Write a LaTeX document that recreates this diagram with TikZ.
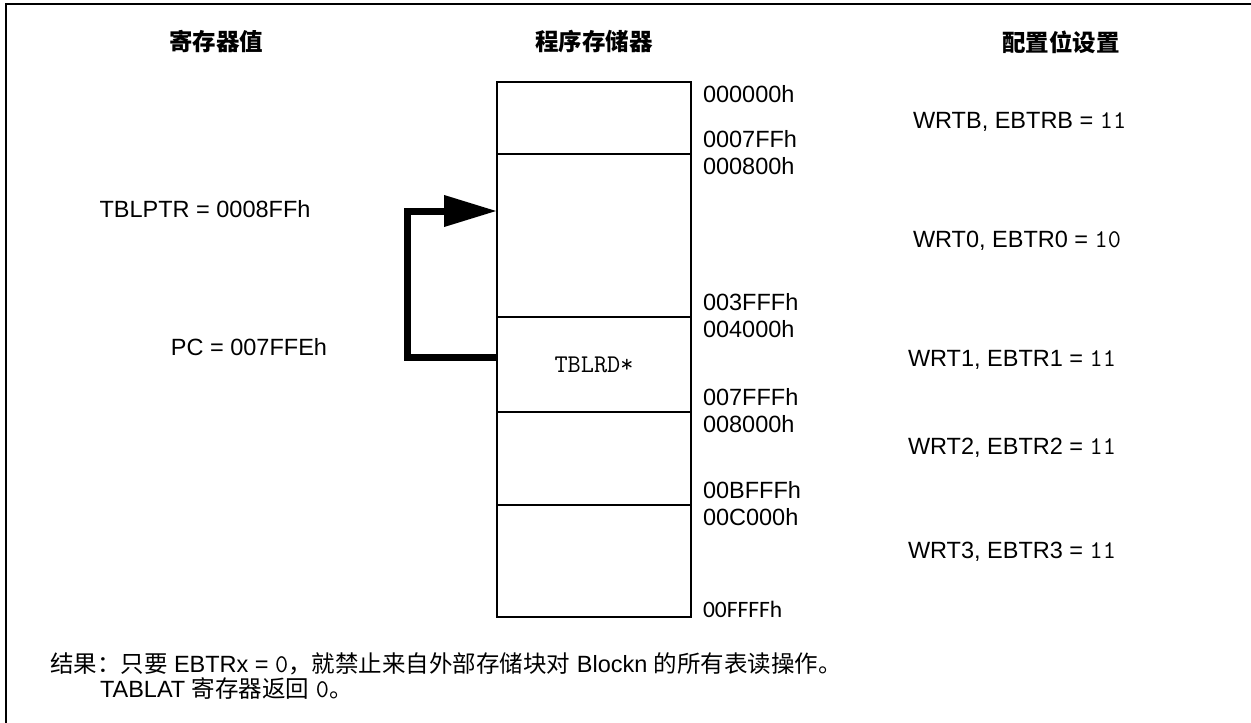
\documentclass[tikz,border=0pt]{standalone}
\usepackage{fontspec}
\setmainfont{Liberation Sans}
\newfontfamily\cjk{Noto Sans CJK SC}
\newcommand\monot{\fontsize{25.5}{26}\ttfamily}
\newfontfamily\carl{Carlito}
\usetikzlibrary{arrows.meta}
\begin{document}
\begin{tikzpicture}[x=1pt,y=-1pt,
  every node/.style={inner sep=0pt,outer sep=0pt,font=\fontsize{23.5}{26}\selectfont},
  blk/.style={draw,line width=2pt,minimum width=194pt},
  addr/.style={anchor=base west},
  hdr/.style={font=\fontsize{23.5}{26}\selectfont\cjk\bfseries},
  cfg/.style={anchor=base west},
  bigarrow/.style={line width=7pt,line join=miter,-{Triangle[length=53pt,width=30pt]}}]
\useasboundingbox (0,0) rectangle (1251,723);
\draw[line width=2.5pt] (6,723) -- (6,4) -- (1251,4);
% headers
\node[hdr] (h1) at (216,42) {寄存器值};
\node[hdr] (h2) at (594,42) {程序存储器};
\node[hdr] (h3) at (1061,42) {配置位设置};
% memory blocks
\node[blk,minimum height=72pt] (b1) at (594,118) {};
\node[blk,minimum height=163pt] (b2) at (594,235.5) {};
\node[blk,minimum height=95pt] (b3) at (594,364.5) {{\monot\selectfont TBLRD*}};
\node[blk,minimum height=93pt] (b4) at (594,458.5) {};
\node[blk,minimum height=112pt] (b5) at (594,561) {};
% addresses
\node[addr] (a1) at (703,102) {000000h};
\node[addr] (a2) at (703,147) {0007FFh};
\node[addr] (a3) at (703,174) {000800h};
\node[addr] (a4) at (703,310) {003FFFh};
\node[addr] (a5) at (703,337) {004000h};
\node[addr] (a6) at (703,405) {007FFFh};
\node[addr] (a7) at (703,432) {008000h};
\node[addr] (a8) at (703,498) {00BFFFh};
\node[addr] (a9) at (703,525) {00C000h};
\node[addr] (a10) at (703,617) {\carl 00FFFFh};
% config
\node[cfg] (c1) at (913,128) {WRTB, EBTRB = {\monot 11}};
\node[cfg] (c2) at (913,247) {WRT0, EBTR0 = {\monot 10}};
\node[cfg] (c3) at (908,366) {WRT1, EBTR1 = {\monot 11}};
\node[cfg] (c4) at (908,454) {WRT2, EBTR2 = {\monot 11}};
\node[cfg] (c5) at (908,558) {WRT3, EBTR3 = {\monot 11}};
% registers
\node (r1) at (205,209) {TBLPTR = 0008FFh};
\node (r2) at (249,347) {PC = 007FFEh};
% arrow
\coordinate (src) at (497,357);
\coordinate (tgt) at (497,211);
\draw[bigarrow] (src) -- (407,357) -- (407,211) -- (tgt);
% note
\node[anchor=base west] (n1) at (50,672) {{\cjk 结果：只要} EBTRx = {\monot 0}{\cjk ，就禁止来自外部存储块对} Blockn {\cjk 的所有表读操作。}};
\node[anchor=base west] (n2) at (100,697) {TABLAT {\cjk 寄存器返回} {\monot 0}{\cjk 。}};
\end{tikzpicture}
\end{document}
